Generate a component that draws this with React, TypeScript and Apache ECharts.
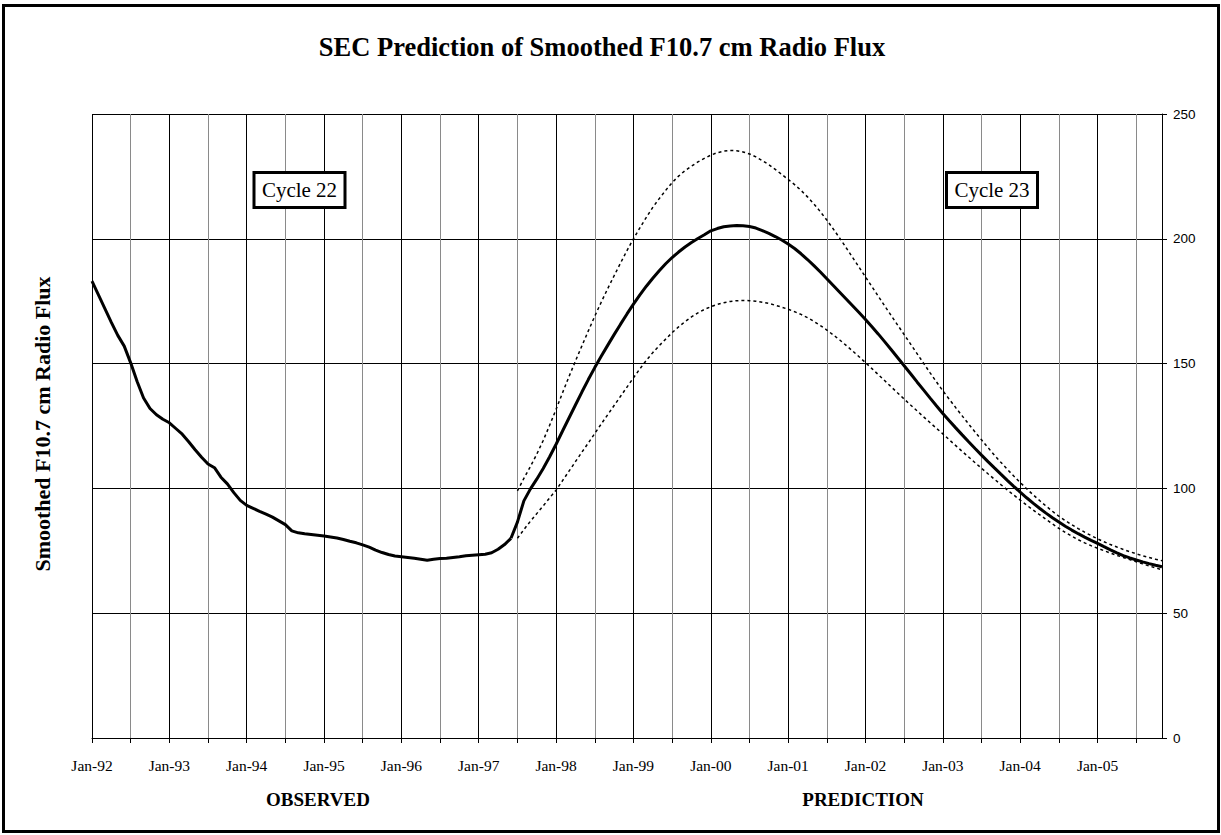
import React, { useEffect, useRef } from 'react';
import * as echarts from 'echarts';

const MONTHS = ['Jan', 'Feb', 'Mar', 'Apr', 'May', 'Jun', 'Jul', 'Aug', 'Sep', 'Oct', 'Nov', 'Dec'];
const YEARS = ['92', '93', '94', '95', '96', '97', '98', '99', '00', '01', '02', '03', '04', '05'];
// Jan-92 .. Nov-05
const categories: string[] = YEARS.flatMap((y) => MONTHS.map((m) => `${m}-${y}`)).slice(0, 167);

// Observed smoothed flux, Jan-92 .. Jun-97
const OBSERVED_START = 0;
const observed = [
  183, 177.5, 172, 166.5, 161.3, 157, 150.3, 142.8, 136.2, 132,
  129.5, 127.7, 126.3, 124, 121.7, 118.7, 115.5, 112.5, 109.8, 108.3,
  104.5, 101.8, 98.3, 95.2, 93.2, 92, 90.8, 89.7, 88.5, 87,
  85.5, 83, 82.2, 81.8, 81.5, 81.2, 80.9, 80.5, 80.1, 79.5,
  78.8, 78.2, 77.4, 76.5, 75.3, 74.3, 73.5, 72.9, 72.6, 72.3,
  72, 71.6, 71.2, 71.6, 71.9, 72, 72.3, 72.6, 73, 73.2,
  73.4, 73.6, 74.2, 75.6, 77.5, 80,
];

// Predicted smoothed flux, Jun-97 .. Nov-05
const PREDICTED_START = 65;
const predicted = [
  80, 86.5, 95, 99.7, 103.7, 108, 112.7, 117.7, 123, 128.2,
  133.4, 138.6, 143.6, 148.4, 152.9, 157.3, 161.6, 165.8, 169.9, 173.8,
  177.5, 181, 184.2, 187.2, 190, 192.5, 194.7, 196.7, 198.5, 200.1,
  201.6, 203.2, 204.1, 204.8, 205.1, 205.3, 205.2, 204.9, 204.3, 203.3,
  202.2, 200.9, 199.5, 197.9, 196.1, 194, 191.7, 189.25, 186.7, 184,
  181.3, 178.6, 175.9, 173.2, 170.5, 167.7, 164.8, 161.8, 158.7, 155.55,
  152.35, 149.15, 145.95, 142.65, 139.45, 136.25, 133.1, 130, 127.1, 124.25,
  121.45, 118.7, 116, 113.35, 110.75, 108.2, 105.7, 103.25, 100.85, 98.5,
  96.25, 94.1, 92.05, 90.1, 88.25, 86.5, 84.85, 83.3, 81.85, 80.5,
  79.2, 77.95, 76.65, 75.4, 74.2, 73.1, 72.15, 71.3, 70.55, 69.85,
  69.2, 68.6,
];

// Prediction bounds, Jul-97 .. Nov-05
const BOUNDS_START = 66;
const upperBound = [
  99, 104, 108.7, 113.7, 119.2, 125.3, 131.7, 138.3, 144.8, 151,
  157.1, 163.1, 169, 174.6, 180, 185.2, 190.3, 195.3, 200, 204.4,
  208.6, 212.6, 216.1, 219.4, 222.5, 225.1, 227.3, 229.1, 230.8, 232.2,
  233.5, 234.5, 235.1, 235.4, 235.3, 234.8, 234, 232.8, 231.3, 229.7,
  227.8, 225.8, 223.8, 221.7, 219.4, 216.8, 213.95, 210.85, 207.5, 203.95,
  200.25, 196.4, 192.5, 188.6, 184.7, 180.8, 176.9, 173, 169.2, 165.4,
  161.6, 157.8, 154, 150.2, 146.4, 142.7, 139.1, 135.7, 132.35, 129.05,
  125.8, 122.6, 119.45, 116.35, 113.35, 110.45, 107.65, 104.95, 102.35, 99.85,
  97.45, 95.15, 92.95, 90.85, 88.85, 87.1, 85.45, 83.9, 82.45, 81.1,
  79.8, 78.6, 77.5, 76.5, 75.55, 74.65, 73.8, 73, 72.3, 71.65,
  71.05,
];
const lowerBound = [
  80, 83.5, 86.8, 89.9, 93, 96.2, 99.3, 103.1, 106.9, 110.7,
  114.5, 118.2, 122, 125.8, 129.5, 133.2, 136.9, 140.6, 144.3, 147.9,
  151.3, 154.4, 157.2, 159.8, 162.4, 164.7, 166.8, 168.7, 170.3, 171.7,
  172.8, 173.7, 174.4, 174.9, 175.2, 175.3, 175.2, 175, 174.6, 174.1,
  173.4, 172.6, 171.8, 170.8, 169.7, 168.4, 166.9, 165.25, 163.45, 161.5,
  159.45, 157.3, 155.05, 152.75, 150.4, 148, 145.55, 143.1, 140.65, 138.2,
  135.8, 133.4, 131.05, 128.7, 126.4, 124.1, 121.85, 119.48, 117.16, 114.84,
  112.57, 110.3, 108.08, 105.86, 103.69, 101.52, 99.4, 97.33, 95.31, 93.3,
  91.35, 89.45, 87.6, 85.8, 84, 82.35, 80.85, 79.45, 78.2, 77.05,
  76.05, 75.05, 74.1, 73.2, 72.3, 71.45, 70.6, 69.75, 68.95, 68.15,
  67.4,
];

const Y_TICKS = [0, 50, 100, 150, 200, 250];

function place(values: number[], start: number): (number | null)[] {
  const out: (number | null)[] = categories.map(() => null);
  values.forEach((v, i) => {
    out[start + i] = v;
  });
  return out;
}

const SERIF = '"Liberation Serif", "Times New Roman", serif';
const SANS = '"Liberation Sans", Arial, sans-serif';

export default function App() {
  const ref = useRef<HTMLDivElement>(null);

  useEffect(() => {
    if (!ref.current) return;
    const chart = echarts.init(ref.current, undefined, { renderer: 'svg' });
    const solid = { color: '#000', width: 3 };
    const dashed = { color: '#000', width: 1.5, type: [3, 3] as number[] };

    chart.setOption({
      animation: false,
      backgroundColor: '#fff',
      grid: { left: 92, right: 59, top: 114, bottom: 97, containLabel: false },
      xAxis: {
        type: 'category',
        data: categories,
        boundaryGap: false,
        axisLine: { show: true, lineStyle: { color: '#000', width: 1 } },
        axisTick: {
          show: true,
          length: 5,
          interval: (i: number) => i % 6 === 0,
          lineStyle: { color: '#000', width: 1 },
        },
        axisLabel: {
          interval: (i: number) => i % 12 === 0,
          color: '#000',
          fontFamily: SERIF,
          fontSize: 15.5,
          margin: 19,
        },
        splitLine: {
          show: true,
          interval: (i: number) => i % 6 === 0,
          lineStyle: { color: ['#000000', '#8a8a8a'], width: 1 },
        },
      },
      yAxis: {
        type: 'value',
        position: 'right',
        min: Y_TICKS[0],
        max: Y_TICKS[Y_TICKS.length - 1],
        interval: 50,
        axisLine: { show: true, lineStyle: { color: '#000', width: 1 } },
        axisTick: { show: true, length: 5, lineStyle: { color: '#000', width: 1 } },
        axisLabel: { color: '#000', fontFamily: SANS, fontSize: 13.5, margin: 11 },
        splitLine: { show: true, lineStyle: { color: '#000', width: 1 } },
      },
      series: [
        {
          name: 'Observed',
          type: 'line',
          data: place(observed, OBSERVED_START),
          symbol: 'none',
          lineStyle: solid,
          z: 5,
        },
        {
          name: 'Predicted',
          type: 'line',
          data: place(predicted, PREDICTED_START),
          symbol: 'none',
          lineStyle: solid,
          z: 5,
        },
        {
          name: 'Upper',
          type: 'line',
          data: place(upperBound, BOUNDS_START),
          symbol: 'none',
          lineStyle: dashed,
          z: 4,
        },
        {
          name: 'Lower',
          type: 'line',
          data: place(lowerBound, BOUNDS_START),
          symbol: 'none',
          lineStyle: dashed,
          z: 4,
        },
      ],
      graphic: [
        {
          type: 'rect',
          z: 100,
          shape: { x: 3.5, y: 5.5, width: 1215, height: 826 },
          style: { fill: 'none', stroke: '#000', lineWidth: 3 },
        },
        {
          type: 'text',
          z: 100,
          x: 602,
          y: 47,
          style: {
            text: 'SEC Prediction of Smoothed F10.7 cm Radio Flux',
            font: `bold 26.5px ${SERIF}`,
            fill: '#000',
            textAlign: 'center',
            textVerticalAlign: 'middle',
          },
        },
        {
          type: 'text',
          z: 100,
          x: 42,
          y: 424,
          rotation: Math.PI / 2,
          style: {
            text: 'Smoothed F10.7 cm Radio Flux',
            font: `bold 22px ${SERIF}`,
            fill: '#000',
            textAlign: 'center',
            textVerticalAlign: 'middle',
          },
        },
        {
          type: 'rect',
          z: 100,
          shape: { x: 254, y: 172.5, width: 91, height: 35 },
          style: { fill: '#fff', stroke: '#000', lineWidth: 3 },
        },
        {
          type: 'text',
          z: 101,
          x: 299.5,
          y: 190,
          style: {
            text: 'Cycle 22',
            font: `21px ${SERIF}`,
            fill: '#000',
            textAlign: 'center',
            textVerticalAlign: 'middle',
          },
        },
        {
          type: 'rect',
          z: 100,
          shape: { x: 946.5, y: 172.5, width: 91, height: 35 },
          style: { fill: '#fff', stroke: '#000', lineWidth: 3 },
        },
        {
          type: 'text',
          z: 101,
          x: 992,
          y: 190,
          style: {
            text: 'Cycle 23',
            font: `21px ${SERIF}`,
            fill: '#000',
            textAlign: 'center',
            textVerticalAlign: 'middle',
          },
        },
        {
          type: 'text',
          z: 100,
          x: 318,
          y: 799,
          style: {
            text: 'OBSERVED',
            font: `bold 19px ${SERIF}`,
            fill: '#000',
            textAlign: 'center',
            textVerticalAlign: 'middle',
          },
        },
        {
          type: 'text',
          z: 100,
          x: 863,
          y: 799,
          style: {
            text: 'PREDICTION',
            font: `bold 19px ${SERIF}`,
            fill: '#000',
            textAlign: 'center',
            textVerticalAlign: 'middle',
          },
        },
      ],
    });

    return () => {
      chart.dispose();
    };
  }, []);

  return (
    <div
      ref={ref}
      style={{ position: 'absolute', left: 0, top: 0, width: 1221, height: 835, background: '#fff' }}
    />
  );
}
